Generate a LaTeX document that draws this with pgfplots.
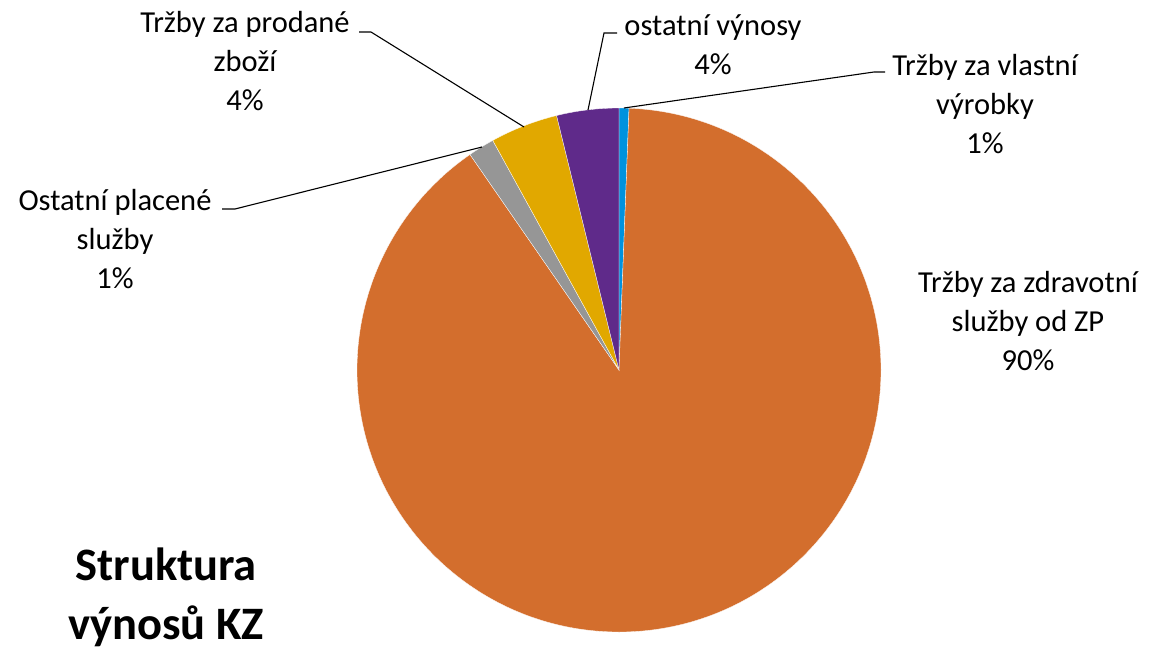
\documentclass[border=0pt]{standalone}
\usepackage{fontspec}
\setmainfont{Carlito}
\usepackage{pgfplots}
\usepackage{pgfplotstable}
\pgfplotsset{compat=1.18}

\definecolor{cblue}{RGB}{0,146,222}
\definecolor{corange}{RGB}{211,110,45}
\definecolor{cgray}{RGB}{150,150,150}
\definecolor{cyellow}{RGB}{225,168,0}
\definecolor{cpurple}{RGB}{95,42,138}

% share of each slice in percent, clockwise from 12 o'clock
\pgfplotstableread{
value color
0.61  cblue
89.76 corange
1.63  cgray
4.17  cyellow
3.83  cpurple
}\slices

\begin{document}
\begin{tikzpicture}[
  lbl/.style={font=\fontsize{30.5bp}{39bp}\selectfont, align=center, text=black},
]
\begin{axis}[
  width=1154bp, height=649bp, scale only axis,
  xmin=0, xmax=1154, ymin=0, ymax=649, y dir=reverse,
  hide axis, clip=false,
]
\path (axis cs:0,0) rectangle (axis cs:1154,649);
\def\angA{90}
\pgfplotsforeachungrouped \i in {0,...,4}{
  \pgfplotstablegetelem{\i}{value}\of\slices \let\val\pgfplotsretval
  \pgfplotstablegetelem{\i}{color}\of\slices \let\col\pgfplotsretval
  \pgfmathsetmacro{\angB}{\angA-3.6*\val}
  \edef\temp{\noexpand\fill[\col, draw=white, line width=0.3bp]
    (axis cs:619,370) -- ++(\angA:262bp)
    arc[start angle=\angA, end angle=\angB, radius=262bp] -- cycle;}
  \temp
  \let\angA\angB
}
% leader lines
\draw[black, line width=1.1bp] (axis cs:359,32) -- (axis cs:371,32) -- (axis cs:524,127);
\draw[black, line width=1.1bp] (axis cs:617,33) -- (axis cs:604,33) -- (axis cs:588,110);
\draw[black, line width=1.1bp] (axis cs:885,72) -- (axis cs:874,72) -- (axis cs:624,108);
\draw[black, line width=1.1bp] (axis cs:222,209) -- (axis cs:235,209) -- (axis cs:482,147);
% labels
\node[lbl] at (axis cs:245,61) {Tržby za prodané\\zboží\\4\%};
\node[lbl] at (axis cs:713,45) {ostatní výnosy\\4\%};
\node[lbl] at (axis cs:985,104) {Tržby za vlastní\\výrobky\\1\%};
\node[lbl] at (axis cs:115,239) {Ostatní placené\\služby\\1\%};
\node[lbl] at (axis cs:1028,321) {Tržby za zdravotní\\služby od ZP\\90\%};
\node[font=\bfseries\fontsize{46.5bp}{59bp}\selectfont, align=center] at (axis cs:166,597) {Struktura\\výnosů KZ};
\end{axis}
\end{tikzpicture}
\end{document}
